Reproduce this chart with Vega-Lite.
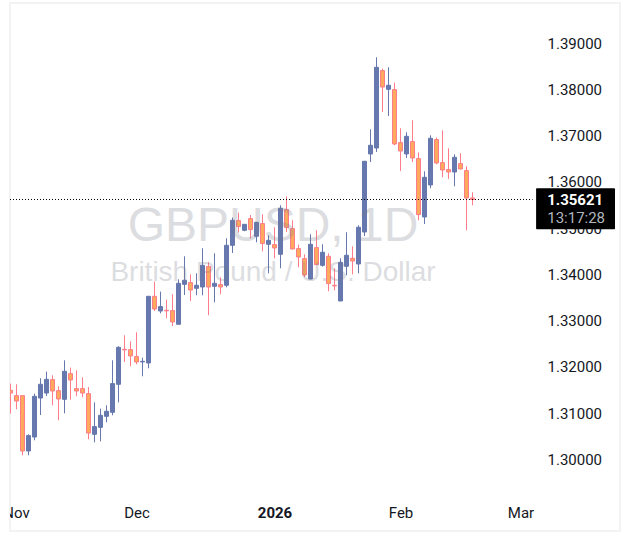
{"$schema":"https://vega.github.io/schema/vega-lite/v6.json","width":610,"height":528,"autosize":{"type":"none"},"padding":{"left":10,"top":3,"right":9,"bottom":16},"background":"#ffffff","config":{"view":{"stroke":"#f3f3f4","strokeWidth":2},"axis":{"grid":false,"domain":false,"ticks":false,"title":null}},
"datasets":{"ohlc":[
{"bar":0,"open":1.31493,"high":1.31638,"low":1.30989,"close":1.31434},
{"bar":1,"open":1.31378,"high":1.31623,"low":1.31082,"close":1.31261},
{"bar":2,"open":1.31378,"high":1.31378,"low":1.30087,"close":1.3018},
{"bar":3,"open":1.3018,"high":1.30541,"low":1.30087,"close":1.30513},
{"bar":4,"open":1.30482,"high":1.31421,"low":1.30411,"close":1.31363},
{"bar":5,"open":1.31326,"high":1.31753,"low":1.30958,"close":1.31623},
{"bar":6,"open":1.31434,"high":1.31897,"low":1.3137,"close":1.31731},
{"bar":7,"open":1.31724,"high":1.31817,"low":1.31168,"close":1.31478},
{"bar":8,"open":1.31486,"high":1.31579,"low":1.30844,"close":1.31305},
{"bar":9,"open":1.31298,"high":1.32142,"low":1.30995,"close":1.31904},
{"bar":10,"open":1.31854,"high":1.31984,"low":1.31292,"close":1.31716},
{"bar":11,"open":1.3153,"high":1.31926,"low":1.31363,"close":1.31478},
{"bar":12,"open":1.3153,"high":1.31774,"low":1.31341,"close":1.31434},
{"bar":13,"open":1.31421,"high":1.31564,"low":1.30433,"close":1.30569},
{"bar":14,"open":1.30541,"high":1.31233,"low":1.30368,"close":1.30708},
{"bar":15,"open":1.30692,"high":1.31097,"low":1.30389,"close":1.30952},
{"bar":16,"open":1.3093,"high":1.31168,"low":1.30801,"close":1.31039},
{"bar":17,"open":1.31017,"high":1.32142,"low":1.30952,"close":1.31638},
{"bar":18,"open":1.31623,"high":1.32445,"low":1.31233,"close":1.32423},
{"bar":19,"open":1.3238,"high":1.32683,"low":1.32105,"close":1.32367},
{"bar":20,"open":1.32373,"high":1.32553,"low":1.32012,"close":1.32235},
{"bar":21,"open":1.32222,"high":1.32748,"low":1.32055,"close":1.32105},
{"bar":22,"open":1.32107,"high":1.322,"low":1.31796,"close":1.3212},
{"bar":23,"open":1.32084,"high":1.33527,"low":1.31969,"close":1.33527},
{"bar":24,"open":1.33527,"high":1.33845,"low":1.33209,"close":1.33252},
{"bar":25,"open":1.33209,"high":1.33628,"low":1.33159,"close":1.33304},
{"bar":26,"open":1.33224,"high":1.33455,"low":1.33051,"close":1.33211},
{"bar":27,"open":1.33217,"high":1.3357,"low":1.32884,"close":1.32971},
{"bar":28,"open":1.32921,"high":1.33894,"low":1.32921,"close":1.33808},
{"bar":29,"open":1.33786,"high":1.34392,"low":1.33555,"close":1.33873},
{"bar":30,"open":1.33823,"high":1.34003,"low":1.33425,"close":1.33663},
{"bar":31,"open":1.337,"high":1.34024,"low":1.33548,"close":1.33765},
{"bar":32,"open":1.33728,"high":1.34565,"low":1.33548,"close":1.34197},
{"bar":33,"open":1.34169,"high":1.34262,"low":1.33116,"close":1.33728},
{"bar":34,"open":1.33743,"high":1.34457,"low":1.33397,"close":1.33808},
{"bar":35,"open":1.3378,"high":1.33938,"low":1.3357,"close":1.33728},
{"bar":36,"open":1.33765,"high":1.34782,"low":1.33721,"close":1.3463},
{"bar":37,"open":1.3463,"high":1.35229,"low":1.34464,"close":1.35171},
{"bar":38,"open":1.35164,"high":1.35338,"low":1.34905,"close":1.35035},
{"bar":39,"open":1.34955,"high":1.35084,"low":1.34933,"close":1.35084},
{"bar":40,"open":1.35208,"high":1.35286,"low":1.34775,"close":1.3497},
{"bar":41,"open":1.34825,"high":1.35128,"low":1.34695,"close":1.35128},
{"bar":42,"open":1.351,"high":1.35301,"low":1.345,"close":1.34667},
{"bar":43,"open":1.34652,"high":1.34846,"low":1.34024,"close":1.34738},
{"bar":44,"open":1.34645,"high":1.3502,"low":1.34349,"close":1.34572},
{"bar":45,"open":1.34435,"high":1.35496,"low":1.34132,"close":1.35431},
{"bar":46,"open":1.35402,"high":1.3569,"low":1.34918,"close":1.35013},
{"bar":47,"open":1.34991,"high":1.35171,"low":1.34544,"close":1.3455},
{"bar":48,"open":1.34559,"high":1.34645,"low":1.34154,"close":1.34377},
{"bar":49,"open":1.34342,"high":1.34435,"low":1.33938,"close":1.33988},
{"bar":50,"open":1.33901,"high":1.34868,"low":1.33894,"close":1.34652},
{"bar":51,"open":1.3458,"high":1.34955,"low":1.34197,"close":1.34213},
{"bar":52,"open":1.34197,"high":1.34652,"low":1.34169,"close":1.34479},
{"bar":53,"open":1.34392,"high":1.34457,"low":1.33635,"close":1.33801},
{"bar":54,"open":1.33765,"high":1.34132,"low":1.33656,"close":1.33752},
{"bar":55,"open":1.33425,"high":1.34349,"low":1.33425,"close":1.34262},
{"bar":56,"open":1.34176,"high":1.34911,"low":1.33981,"close":1.34414},
{"bar":57,"open":1.34349,"high":1.34608,"low":1.34003,"close":1.3429},
{"bar":58,"open":1.34226,"high":1.35063,"low":1.34024,"close":1.3502},
{"bar":59,"open":1.34918,"high":1.36448,"low":1.34831,"close":1.36448},
{"bar":60,"open":1.36606,"high":1.3714,"low":1.36432,"close":1.36794},
{"bar":61,"open":1.36735,"high":1.38698,"low":1.36649,"close":1.38481},
{"bar":62,"open":1.3841,"high":1.38453,"low":1.37514,"close":1.38055},
{"bar":63,"open":1.38005,"high":1.38481,"low":1.37428,"close":1.38092},
{"bar":64,"open":1.37999,"high":1.3815,"low":1.36794,"close":1.36822},
{"bar":65,"open":1.36852,"high":1.37162,"low":1.36238,"close":1.3667},
{"bar":66,"open":1.36606,"high":1.37075,"low":1.36519,"close":1.36988},
{"bar":67,"open":1.36874,"high":1.37335,"low":1.36432,"close":1.36519},
{"bar":68,"open":1.36506,"high":1.36642,"low":1.35171,"close":1.35294},
{"bar":69,"open":1.35242,"high":1.36231,"low":1.35091,"close":1.36101},
{"bar":70,"open":1.35935,"high":1.3701,"low":1.35863,"close":1.36945},
{"bar":71,"open":1.36917,"high":1.3696,"low":1.36383,"close":1.36411},
{"bar":72,"open":1.36419,"high":1.37118,"low":1.36101,"close":1.36259},
{"bar":73,"open":1.36268,"high":1.36729,"low":1.36065,"close":1.36216},
{"bar":74,"open":1.36216,"high":1.36599,"low":1.35907,"close":1.36534},
{"bar":75,"open":1.36398,"high":1.36621,"low":1.36274,"close":1.36281},
{"bar":76,"open":1.36246,"high":1.36339,"low":1.34955,"close":1.35654},
{"bar":77,"open":1.35654,"high":1.35777,"low":1.35496,"close":1.35621}
]},
"layer":[
{"data":{"name":"ohlc"},"mark":{"type":"rule","strokeWidth":1,"clip":true},"encoding":{
"x":{"field":"bar","type":"quantitative","scale":{"domain":[-0.0833,101.583],"nice":false,"zero":false,"padding":0},"axis":{"values":[21,44,65,85],"orient":"bottom","offset":-26,"labelPadding":0,"labelFont":"Roboto","labelFontSize":15,"labelColor":"#131722","labelFlush":false,"labelOverlap":false,"labelExpr":"datum.value==21?'Dec':datum.value==44?'2026':datum.value==65?'Feb':'Mar'","labelFontWeight":{"condition":{"test":"datum.value==44","value":"bold"},"value":"normal"}}},
"y":{"field":"low","type":"quantitative","scale":{"domain":[1.28449,1.39872],"nice":false,"zero":false},"axis":{"orient":"right","offset":-73,"labelPadding":0,"values":[1.3,1.31,1.32,1.33,1.34,1.35,1.36,1.37,1.38,1.39],"format":".5f","labelFont":"Roboto","labelFontSize":15,"labelColor":"#131722","labelAlign":"left","labelOverlap":false,"labelFlush":false}},
"y2":{"field":"high"},
"color":{"condition":{"test":"datum.close>=datum.open","value":"#6678ae"},"value":"#ff7c8b"}}},
{"data":{"name":"ohlc"},"mark":{"type":"bar","size":4,"strokeWidth":1,"clip":true},"encoding":{
"x":{"field":"bar","type":"quantitative"},
"y":{"field":"open","type":"quantitative"},
"y2":{"field":"close"},
"fill":{"condition":{"test":"datum.close>=datum.open","value":"#6678ae"},"value":"#ffa95c"},
"stroke":{"condition":{"test":"datum.close>=datum.open","value":"#6678ae"},"value":"#ff7c8b"}}},
{"data":{"values":[{"name":"GBPUSD, 1D","bar":43.75,"price":1.3503}]},"mark":{"type":"text","font":"Liberation Sans","fontSize":48,"color":"#787b86","opacity":0.25,"align":"center","baseline":"middle"},"encoding":{"x":{"field":"bar","type":"quantitative"},"y":{"field":"price","type":"quantitative"},"text":{"field":"name"}}},
{"data":{"values":[{"name":"British Pound / U.S. Dollar","bar":43.75,"price":1.34024}]},"mark":{"type":"text","font":"Liberation Sans","fontSize":28,"color":"#787b86","opacity":0.25,"align":"center","baseline":"middle"},"encoding":{"x":{"field":"bar","type":"quantitative"},"y":{"field":"price","type":"quantitative"},"text":{"field":"name"}}},
{"data":{"values":[{"price":1.35621,"from":-0.0833,"to":87}]},"mark":{"type":"rule","color":"#000000","strokeWidth":1,"strokeDash":[1,2]},"encoding":{"x":{"field":"from","type":"quantitative"},"x2":{"field":"to"},"y":{"field":"price","type":"quantitative"}}},
{"data":{"values":[{"label":"Nov","bar":1,"price":1.28833}]},"mark":{"type":"text","clip":true,"font":"Roboto","fontSize":15,"color":"#131722","align":"center","baseline":"middle"},"encoding":{"x":{"field":"bar","type":"quantitative"},"y":{"field":"price","type":"quantitative"},"text":{"field":"label"}}},
{"data":{"values":[{"x0":87.6,"x1":100.75,"top":1.35863,"bottom":1.34976}]},"mark":{"type":"rect","color":"#000000","cornerRadius":1},"encoding":{"x":{"field":"x0","type":"quantitative"},"x2":{"field":"x1"},"y":{"field":"top","type":"quantitative"},"y2":{"field":"bottom"}}},
{"data":{"values":[{"label":"1.35621","bar":89.45,"price":1.35604}]},"mark":{"type":"text","font":"Roboto","fontSize":15,"fontWeight":"bold","color":"#ffffff","align":"left","baseline":"middle"},"encoding":{"x":{"field":"bar","type":"quantitative"},"y":{"field":"price","type":"quantitative"},"text":{"field":"label"}}},
{"data":{"values":[{"label":"13:17:28","bar":89.45,"price":1.35214}]},"mark":{"type":"text","font":"Roboto","fontSize":15,"color":"#b2b5be","align":"left","baseline":"middle"},"encoding":{"x":{"field":"bar","type":"quantitative"},"y":{"field":"price","type":"quantitative"},"text":{"field":"label"}}}
]}
